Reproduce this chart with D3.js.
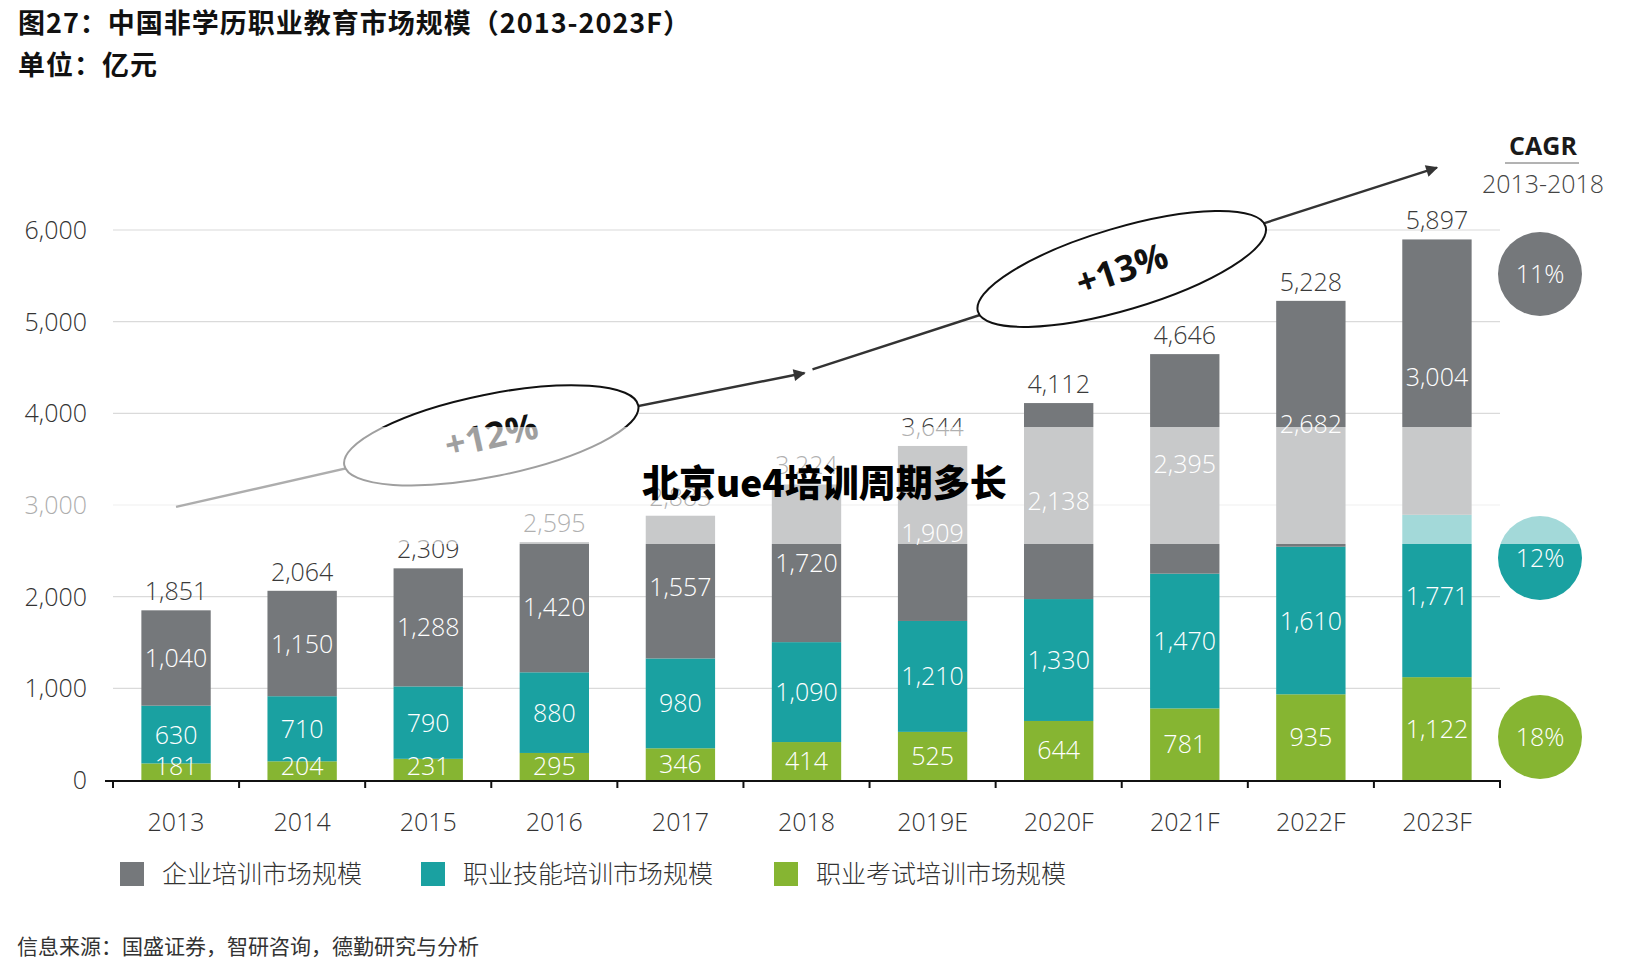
<!DOCTYPE html>
<html lang="zh">
<head>
  <meta charset="UTF-8">
  <title>中国非学历职业教育市场规模</title>
  <script src="https://d3js.org/d3.v7.min.js"></script>
  <style>
    body { margin: 0; background: #fff; }
    text { font-family: "Open Sans", "Noto Sans CJK SC", sans-serif; }
    .cjk { font-family: "Noto Sans CJK SC", sans-serif; }
    .tick-label { font-size: 25px; fill: #333; font-weight: 300; }
    .seg-label { font-size: 25px; fill: #fff; font-weight: 300; text-anchor: middle; }
    .total-label { font-size: 25px; fill: #3a3a3a; font-weight: 300; text-anchor: middle; }
  </style>
</head>
<body>
<div id="chart"></div>
<script>
  // data
  const years = ["2013", "2014", "2015", "2016", "2017", "2018", "2019E", "2020F", "2021F", "2022F", "2023F"];
  const corporate = [1040, 1150, 1288, 1420, 1557, 1720, 1909, 2138, 2395, 2682, 3004];
  const skills    = [630, 710, 790, 880, 980, 1090, 1210, 1330, 1470, 1610, 1771];
  const exams     = [181, 204, 231, 295, 346, 414, 525, 644, 781, 935, 1122];
  const totals    = [1851, 2064, 2309, 2595, 2883, 3224, 3644, 4112, 4646, 5228, 5897];
  const yTicks = [0, 1000, 2000, 3000, 4000, 5000, 6000];
  const seriesNames = ["企业培训市场规模", "职业技能培训市场规模", "职业考试培训市场规模"];
  const cagr = ["11%", "12%", "18%"];
  const trendLabels = ["+12%", "+13%"];

  const colors = ["#75787b", "#1aa1a1", "#86b532"];
  const W = 1644, H = 972;

  const svg = d3.select("#chart").append("svg")
      .attr("width", W).attr("height", H);

  const x = d3.scaleBand().domain(years).range([113, 1500])
      .paddingInner(0.45).paddingOuter(0.225);
  const y = d3.scaleLinear().domain([0, 6000]).range([780, 230]);

  // title
  svg.append("text").attr("class", "cjk").attr("x", 18).attr("y", 33)
     .attr("font-size", 27).attr("font-weight", 700).attr("fill", "#111")
     .attr("letter-spacing", 1)
     .text("图27：中国非学历职业教育市场规模（2013-2023F）");
  svg.append("text").attr("class", "cjk").attr("x", 18).attr("y", 75)
     .attr("font-size", 27).attr("font-weight", 700).attr("fill", "#111")
     .attr("letter-spacing", 1)
     .text("单位：亿元");

  // grid
  svg.append("g").selectAll("line").data(yTicks.slice(1)).join("line")
     .attr("x1", 113).attr("x2", 1500)
     .attr("y1", d => y(d)).attr("y2", d => y(d))
     .attr("stroke", "#dadada").attr("stroke-width", 1.2);

  // y labels
  svg.append("g").selectAll("text").data(yTicks).join("text")
     .attr("class", "tick-label")
     .attr("x", 87).attr("y", d => y(d)).attr("dy", "0.36em")
     .attr("text-anchor", "end")
     .text(d => d3.format(",")(d));

  // stacked bars
  const rows = years.map((yr, i) => ({ year: yr, c: corporate[i], s: skills[i], e: exams[i] }));
  const stack = d3.stack().keys(["e", "s", "c"])(rows);
  const colorOf = { e: colors[2], s: colors[1], c: colors[0] };

  const layers = svg.append("g").selectAll("g").data(stack).join("g")
     .attr("fill", d => colorOf[d.key]);
  layers.selectAll("rect").data(d => d).join("rect")
     .attr("x", d => x(d.data.year))
     .attr("width", x.bandwidth())
     .attr("y", d => y(d[1]))
     .attr("height", d => y(d[0]) - y(d[1]));

  // segment labels
  const segLabels = svg.append("g");
  stack.forEach(layer => {
    segLabels.selectAll(null).data(layer).join("text")
      .attr("class", "seg-label")
      .attr("x", d => x(d.data.year) + x.bandwidth() / 2)
      .attr("y", d => Math.min((y(d[0]) + y(d[1])) / 2, y(0) - 14))
      .attr("dy", "0.36em")
      .text(d => d3.format(",")(d[1] - d[0]));
  });

  // totals
  svg.append("g").selectAll("text").data(years).join("text")
     .attr("class", "total-label")
     .attr("x", d => x(d) + x.bandwidth() / 2)
     .attr("y", (d, i) => y(totals[i]) - 19)
     .attr("dy", "0.36em")
     .text((d, i) => d3.format(",")(totals[i]));

  // x axis
  const axisY = y(0) + 1;
  svg.append("line").attr("x1", 105).attr("x2", 1501)
     .attr("y1", axisY).attr("y2", axisY)
     .attr("stroke", "#111").attr("stroke-width", 2);
  const step = x.step();
  svg.append("g").selectAll("line").data(d3.range(years.length + 1)).join("line")
     .attr("x1", i => x.range()[0] + i * step).attr("x2", i => x.range()[0] + i * step)
     .attr("y1", axisY).attr("y2", axisY + 7)
     .attr("stroke", "#111").attr("stroke-width", 2);
  svg.append("g").selectAll("text").data(years).join("text")
     .attr("class", "tick-label")
     .attr("x", d => x(d) + x.bandwidth() / 2).attr("y", 822).attr("dy", "0.36em")
     .attr("text-anchor", "middle")
     .text(d => d);

  // trend arrows and ellipses
  const defs = svg.append("defs");
  defs.append("marker").attr("id", "arrow").attr("viewBox", "0 0 10 10")
     .attr("refX", 9).attr("refY", 5).attr("markerWidth", 6).attr("markerHeight", 5)
     .attr("markerUnits", "strokeWidth").attr("orient", "auto")
     .append("path").attr("d", "M0,0L10,5L0,10Z").attr("fill", "#333");

  const cx = yr => x(yr) + x.bandwidth() / 2;
  const edge = i => x.range()[0] + i * step;
  const trend = svg.append("g").attr("stroke", "#333").attr("stroke-width", 2.4).attr("fill", "none");
  const e1 = [edge(3), y(3760)], e2 = [edge(8), y(5575)];
  trend.append("line").attr("x1", cx("2013")).attr("y1", y(2980)).attr("x2", e1[0]).attr("y2", e1[1]);
  trend.append("line").attr("x1", e1[0]).attr("y1", e1[1]).attr("x2", cx("2018") - 2).attr("y2", y(4440))
       .attr("marker-end", "url(#arrow)");
  trend.append("line").attr("x1", cx("2018") + 6).attr("y1", y(4480)).attr("x2", e2[0]).attr("y2", e2[1]);
  trend.append("line").attr("x1", e2[0]).attr("y1", e2[1]).attr("x2", cx("2023F")).attr("y2", y(6680))
       .attr("marker-end", "url(#arrow)");

  [[e1, -11.5], [e2, -16.5]].forEach(([c, a], i) => {
    const g = svg.append("g").attr("transform", `translate(${c[0]},${c[1]}) rotate(${a})`);
    g.append("ellipse").attr("rx", 150).attr("ry", 41)
     .attr("fill", "#fff").attr("stroke", "#111").attr("stroke-width", 2);
    g.append("text").attr("text-anchor", "middle").attr("dy", "0.36em")
     .attr("font-size", 36).attr("font-weight", 700).attr("fill", "#111")
     .attr("transform", `rotate(${i === 0 ? -1 : -2})`)
     .text(trendLabels[i]);
  });

  // CAGR column
  svg.append("text").attr("x", 1543).attr("y", 146).attr("dy", "0.36em")
     .attr("text-anchor", "middle").attr("font-size", 25).attr("font-weight", 700).attr("fill", "#1a1a1a")
     .text("CAGR");
  svg.append("line").attr("x1", 1505).attr("x2", 1579).attr("y1", 163).attr("y2", 163)
     .attr("stroke", "#666").attr("stroke-width", 1);
  svg.append("text").attr("x", 1543).attr("y", 184).attr("dy", "0.36em")
     .attr("text-anchor", "middle").attr("font-size", 25).attr("font-weight", 300).attr("fill", "#444")
     .text("2013-2018");
  const circleY = [274, 558, 737];
  const circles = svg.append("g").selectAll("g").data(cagr).join("g")
     .attr("transform", (d, i) => `translate(1540,${circleY[i]})`);
  circles.append("circle").attr("r", 42).attr("fill", (d, i) => colors[i]);
  circles.append("text").attr("text-anchor", "middle").attr("dy", "0.36em")
     .attr("font-size", 25).attr("font-weight", 300).attr("fill", "#fff").text(d => d);

  // faded band in the source image
  svg.append("rect").attr("x", 0).attr("width", W)
     .attr("y", 427).attr("height", 117)
     .attr("fill", "#fff").attr("opacity", 0.6);

  // legend
  const legendX = [120, 421, 774];
  const legend = svg.append("g").selectAll("g").data(seriesNames).join("g")
     .attr("transform", (d, i) => `translate(${legendX[i]},862)`);
  legend.append("rect").attr("width", 24).attr("height", 24).attr("fill", (d, i) => colors[i]);
  legend.append("text").attr("class", "cjk").attr("x", 42).attr("y", 12).attr("dy", "0.36em")
     .attr("font-size", 25).attr("font-weight", 300).attr("fill", "#333").text(d => d);

  // source
  svg.append("text").attr("class", "cjk").attr("x", 17).attr("y", 946).attr("dy", "0.36em")
     .attr("font-size", 21).attr("fill", "#333")
     .text("信息来源：国盛证券，智研咨询，德勤研究与分析");

  // overlaid caption
  svg.append("text").attr("class", "cjk").attr("x", 642).attr("y", 484).attr("dy", "0.36em")
     .attr("font-size", 37).attr("font-weight", 900).attr("fill", "#000")
     .text("北京ue4培训周期多长");
</script>
</body>
</html>
